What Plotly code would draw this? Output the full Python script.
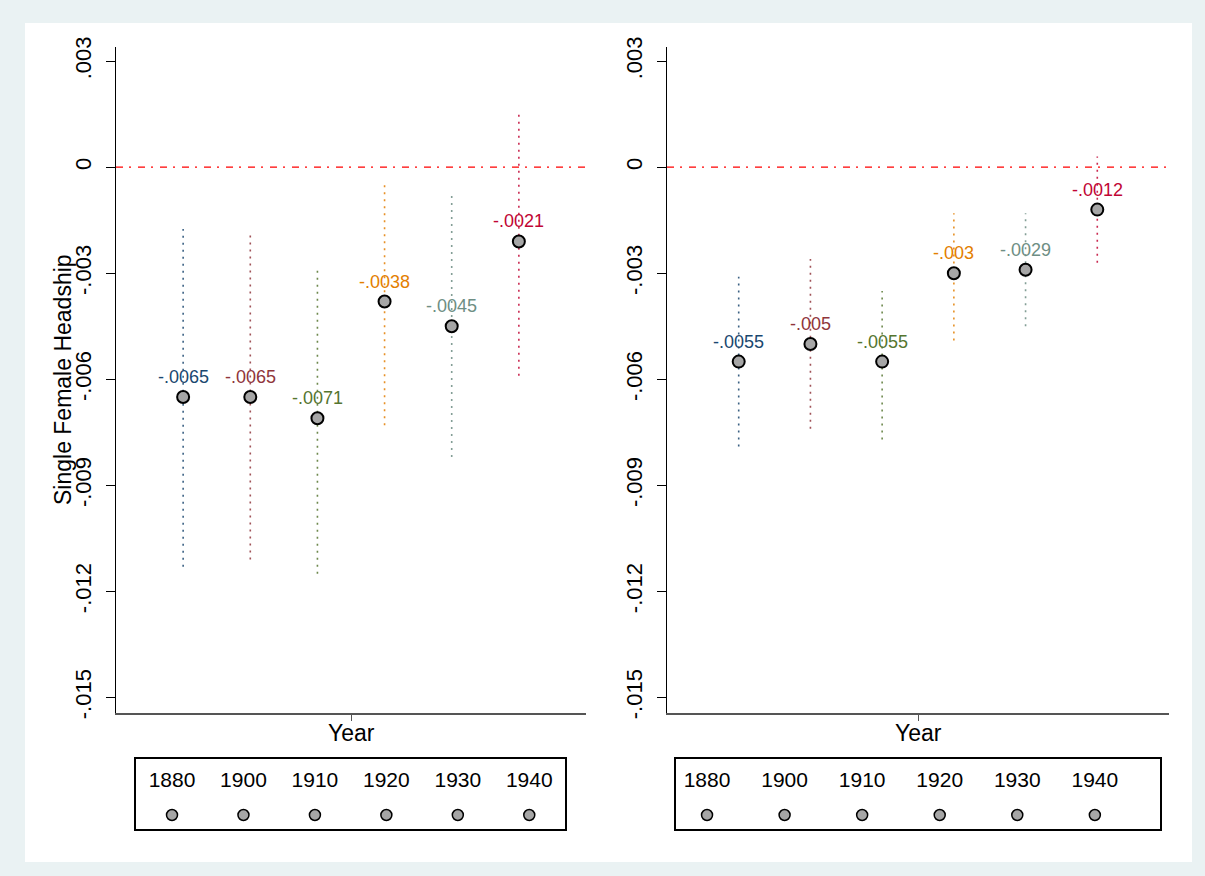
import plotly.graph_objects as go

# ---- data -----------------------------------------------------------------
years = ["1880", "1900", "1910", "1920", "1930", "1940"]
series_colors = ["#1a476f", "#90353b", "#55752f", "#e37e00", "#6e8e84", "#c10534"]

# left panel: point estimates and 95% confidence bounds
left_est = [-0.0065, -0.0065, -0.0071, -0.0038, -0.0045, -0.0021]
left_lo = [-0.0113, -0.0111, -0.0115, -0.0073, -0.0082, -0.0059]
left_hi = [-0.00175, -0.0019, -0.0029, -0.0005, -0.0008, 0.0016]

# right panel: point estimates and 95% confidence bounds
right_est = [-0.0055, -0.005, -0.0055, -0.003, -0.0029, -0.0012]
right_lo = [-0.0079, -0.0074, -0.0077, -0.0049, -0.0045, -0.0027]
right_hi = [-0.0031, -0.0026, -0.0035, -0.0013, -0.0013, 0.0003]

y_ticks = [0.003, 0, -0.003, -0.006, -0.009, -0.012, -0.015]

y_title = "Single Female Headship"
x_title = "Year"

# ---- page geometry (pixels) -------------------------------------------------
W, H = 1205, 876
FONT = "Liberation Sans, Arial, sans-serif"


def px_x(v):
    return v / W


def px_y(v):
    return (H - v) / H


def stata_fmt(v):
    if v == 0:
        return "0"
    return f"{v:g}".replace("0.", ".", 1)


fig = go.Figure()

panels = [
    dict(est=left_est, lo=left_lo, hi=left_hi, xa="x", ya="y",
         xdom=[px_x(116), px_x(586)], leg_dom=[px_x(136), px_x(565)],
         leg_range=[0.496, 6.50], xa_leg="x3", ya_leg="y3"),
    dict(est=right_est, lo=right_lo, hi=right_hi, xa="x2", ya="y2",
         xdom=[px_x(667), px_x(1169)], leg_dom=[px_x(676), px_x(1160)],
         leg_range=[0.60, 6.84], xa_leg="x4", ya_leg="y4"),
]

y_dom = [px_y(713), px_y(47)]
y_range = [-0.01544, 0.0034]
leg_ydom = [px_y(829), px_y(759)]

annotations = []
shapes = []

# white plot region on the tinted page
shapes.append(dict(type="rect", xref="paper", yref="paper",
                   x0=px_x(25), x1=px_x(1192), y0=px_y(862), y1=px_y(23),
                   fillcolor="white", line=dict(width=0), layer="below"))

for p in panels:
    xpos = list(range(1, len(years) + 1))
    # confidence intervals as dotted spikes
    for i, c in enumerate(series_colors):
        fig.add_trace(go.Scatter(
            x=[xpos[i], xpos[i]], y=[p["lo"][i], p["hi"][i]],
            mode="lines", line=dict(color=c, width=1.6, dash="2px,5px"),
            opacity=0.85, xaxis=p["xa"], yaxis=p["ya"],
            hoverinfo="skip", showlegend=False))
    # point estimates
    fig.add_trace(go.Scatter(
        x=xpos, y=p["est"], mode="markers",
        marker=dict(size=12, color="#a6a6a6", line=dict(color="black", width=2)),
        xaxis=p["xa"], yaxis=p["ya"], showlegend=False))
    # value labels above each marker
    for i, c in enumerate(series_colors):
        annotations.append(dict(
            x=xpos[i], y=p["est"][i], xref=p["xa"], yref=p["ya"],
            text=stata_fmt(p["est"][i]), showarrow=False,
            xanchor="center", yanchor="bottom", yshift=8,
            font=dict(family=FONT, size=18, color=c)))
    # zero reference line
    shapes.append(dict(type="line", xref=f"{p['xa']} domain", yref=p["ya"],
                       x0=0, x1=1, y0=0, y1=0,
                       line=dict(color="red", width=1.3, dash="7px,6px,2px,7px")))
    # x-axis title
    annotations.append(dict(
        x=(p["xdom"][0] + p["xdom"][1]) / 2, y=px_y(733), xref="paper", yref="paper",
        text=x_title, showarrow=False, xanchor="center", yanchor="middle",
        font=dict(family=FONT, size=23, color="black")))

    # key box below each panel
    fig.add_trace(go.Scatter(
        x=xpos, y=[0.67] * len(years), mode="text", text=years,
        textfont=dict(family=FONT, size=21, color="black"),
        xaxis=p["xa_leg"], yaxis=p["ya_leg"], hoverinfo="skip", showlegend=False))
    fig.add_trace(go.Scatter(
        x=xpos, y=[0.2] * len(years), mode="markers",
        marker=dict(size=11, color="#a6a6a6", line=dict(color="black", width=1.5)),
        xaxis=p["xa_leg"], yaxis=p["ya_leg"], hoverinfo="skip", showlegend=False))

# y-axis title on the left panel
annotations.append(dict(
    x=px_x(63), y=(y_dom[0] + y_dom[1]) / 2, xref="paper", yref="paper",
    text=y_title, textangle=-90, showarrow=False, xanchor="center", yanchor="middle",
    font=dict(family=FONT, size=23, color="black")))

ytick_text = [stata_fmt(v) for v in y_ticks]

common_y = dict(
    range=y_range, domain=y_dom, tickvals=y_ticks, ticktext=ytick_text,
    tickangle=-90, ticks="outside", ticklen=9, tickcolor="black", tickwidth=1.2,
    showline=True, linecolor="black", linewidth=1.2, showgrid=False, zeroline=False,
    tickfont=dict(family=FONT, size=22, color="black"), ticklabelstandoff=6,
    automargin=False,
)
common_x = dict(
    range=[0, 7], tickvals=[3.5], ticktext=[""], ticks="outside", ticklen=6,
    tickcolor="#555555", tickwidth=1, showline=True, linecolor="#555555", linewidth=2,
    showgrid=False, zeroline=False, automargin=False,
)
leg_x = dict(showline=True, mirror=True, linecolor="black", linewidth=1.5,
             showgrid=False, zeroline=False, showticklabels=False, ticks="",
             automargin=False)
leg_y = dict(range=[0, 1], domain=leg_ydom, showline=True, mirror=True,
             linecolor="black", linewidth=1.5, showgrid=False, zeroline=False,
             showticklabels=False, ticks="", automargin=False)

fig.update_layout(
    width=W, height=H, margin=dict(l=0, r=0, t=0, b=0, autoexpand=False),
    paper_bgcolor="#eaf2f3", plot_bgcolor="rgba(0,0,0,0)",
    font=dict(family=FONT, color="black"),
    xaxis=dict(domain=panels[0]["xdom"], anchor="y", **common_x),
    yaxis=dict(anchor="x", **common_y),
    xaxis2=dict(domain=panels[1]["xdom"], anchor="y2", **common_x),
    yaxis2=dict(anchor="x2", **common_y),
    xaxis3=dict(domain=panels[0]["leg_dom"], range=panels[0]["leg_range"], anchor="y3", **leg_x),
    yaxis3=dict(anchor="x3", **leg_y),
    xaxis4=dict(domain=panels[1]["leg_dom"], range=panels[1]["leg_range"], anchor="y4", **leg_x),
    yaxis4=dict(anchor="x4", **leg_y),
    annotations=annotations, shapes=shapes, showlegend=False,
)

fig.write_html("out.html")
